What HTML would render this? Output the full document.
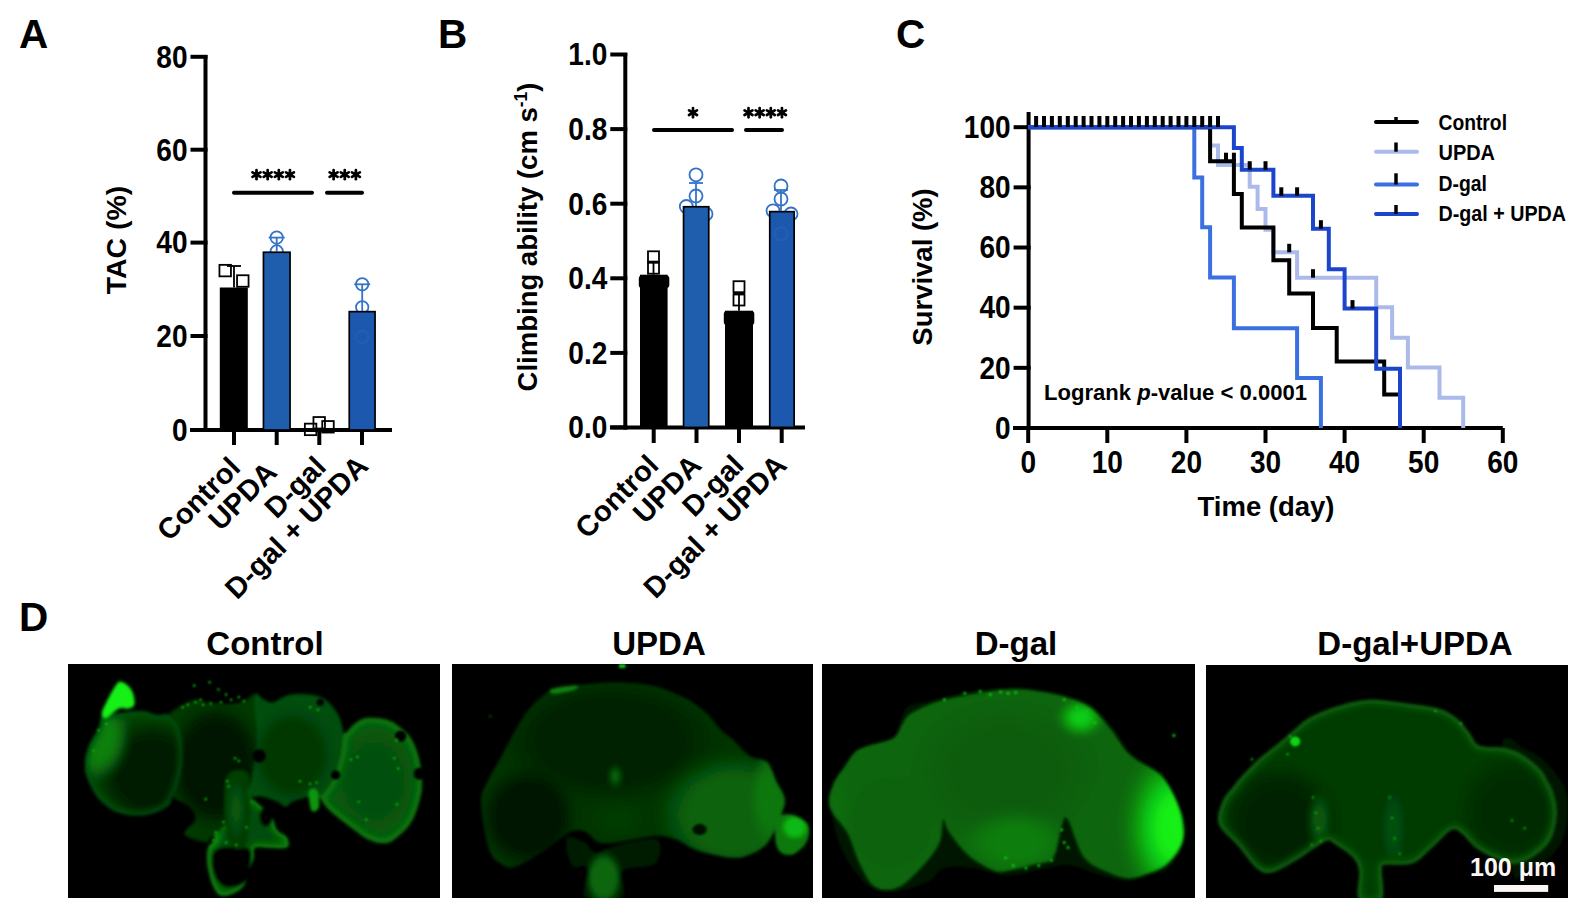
<!DOCTYPE html>
<html><head><meta charset="utf-8"><style>
html,body{margin:0;padding:0;background:#fff;width:1588px;height:918px;overflow:hidden}
svg{display:block}
</style></head><body>
<svg width="1588" height="918" viewBox="0 0 1588 918">
<defs><radialGradient id="rg0"><stop offset="0.000" stop-color="rgb(11,140,14)" stop-opacity="1.000"/><stop offset="0.125" stop-color="rgb(11,140,14)" stop-opacity="1.000"/><stop offset="0.250" stop-color="rgb(11,140,14)" stop-opacity="1.000"/><stop offset="0.375" stop-color="rgb(11,140,14)" stop-opacity="0.972"/><stop offset="0.500" stop-color="rgb(11,140,14)" stop-opacity="0.812"/><stop offset="0.625" stop-color="rgb(11,140,14)" stop-opacity="0.556"/><stop offset="0.750" stop-color="rgb(11,140,14)" stop-opacity="0.283"/><stop offset="0.875" stop-color="rgb(11,140,14)" stop-opacity="0.077"/><stop offset="1.000" stop-color="rgb(11,140,14)" stop-opacity="0.000"/></radialGradient><radialGradient id="rg1"><stop offset="0.000" stop-color="rgb(2,28,3)" stop-opacity="1.000"/><stop offset="0.125" stop-color="rgb(2,28,3)" stop-opacity="1.000"/><stop offset="0.250" stop-color="rgb(2,28,3)" stop-opacity="1.000"/><stop offset="0.375" stop-color="rgb(2,28,3)" stop-opacity="1.000"/><stop offset="0.500" stop-color="rgb(2,28,3)" stop-opacity="0.980"/><stop offset="0.625" stop-color="rgb(2,28,3)" stop-opacity="0.770"/><stop offset="0.750" stop-color="rgb(2,28,3)" stop-opacity="0.429"/><stop offset="0.875" stop-color="rgb(2,28,3)" stop-opacity="0.122"/><stop offset="1.000" stop-color="rgb(2,28,3)" stop-opacity="0.000"/></radialGradient><radialGradient id="rg2"><stop offset="0.000" stop-color="rgb(11,135,14)" stop-opacity="0.900"/><stop offset="0.125" stop-color="rgb(11,135,14)" stop-opacity="0.900"/><stop offset="0.250" stop-color="rgb(11,135,14)" stop-opacity="0.900"/><stop offset="0.375" stop-color="rgb(11,135,14)" stop-opacity="0.900"/><stop offset="0.500" stop-color="rgb(11,135,14)" stop-opacity="0.840"/><stop offset="0.625" stop-color="rgb(11,135,14)" stop-opacity="0.622"/><stop offset="0.750" stop-color="rgb(11,135,14)" stop-opacity="0.334"/><stop offset="0.875" stop-color="rgb(11,135,14)" stop-opacity="0.093"/><stop offset="1.000" stop-color="rgb(11,135,14)" stop-opacity="0.000"/></radialGradient><radialGradient id="rg3"><stop offset="0.000" stop-color="rgb(2,24,2)" stop-opacity="1.000"/><stop offset="0.125" stop-color="rgb(2,24,2)" stop-opacity="1.000"/><stop offset="0.250" stop-color="rgb(2,24,2)" stop-opacity="1.000"/><stop offset="0.375" stop-color="rgb(2,24,2)" stop-opacity="1.000"/><stop offset="0.500" stop-color="rgb(2,24,2)" stop-opacity="1.000"/><stop offset="0.625" stop-color="rgb(2,24,2)" stop-opacity="0.990"/><stop offset="0.750" stop-color="rgb(2,24,2)" stop-opacity="0.691"/><stop offset="0.875" stop-color="rgb(2,24,2)" stop-opacity="0.222"/><stop offset="1.000" stop-color="rgb(2,24,2)" stop-opacity="0.000"/></radialGradient><radialGradient id="rg4"><stop offset="0.000" stop-color="rgb(8,95,10)" stop-opacity="0.800"/><stop offset="0.125" stop-color="rgb(8,95,10)" stop-opacity="0.770"/><stop offset="0.250" stop-color="rgb(8,95,10)" stop-opacity="0.683"/><stop offset="0.375" stop-color="rgb(8,95,10)" stop-opacity="0.553"/><stop offset="0.500" stop-color="rgb(8,95,10)" stop-opacity="0.400"/><stop offset="0.625" stop-color="rgb(8,95,10)" stop-opacity="0.247"/><stop offset="0.750" stop-color="rgb(8,95,10)" stop-opacity="0.117"/><stop offset="0.875" stop-color="rgb(8,95,10)" stop-opacity="0.030"/><stop offset="1.000" stop-color="rgb(8,95,10)" stop-opacity="0.000"/></radialGradient><radialGradient id="rg5"><stop offset="0.000" stop-color="rgb(4,55,6)" stop-opacity="1.000"/><stop offset="0.125" stop-color="rgb(4,55,6)" stop-opacity="1.000"/><stop offset="0.250" stop-color="rgb(4,55,6)" stop-opacity="1.000"/><stop offset="0.375" stop-color="rgb(4,55,6)" stop-opacity="1.000"/><stop offset="0.500" stop-color="rgb(4,55,6)" stop-opacity="1.000"/><stop offset="0.625" stop-color="rgb(4,55,6)" stop-opacity="0.854"/><stop offset="0.750" stop-color="rgb(4,55,6)" stop-opacity="0.500"/><stop offset="0.875" stop-color="rgb(4,55,6)" stop-opacity="0.146"/><stop offset="1.000" stop-color="rgb(4,55,6)" stop-opacity="0.000"/></radialGradient><radialGradient id="rg6"><stop offset="0.000" stop-color="rgb(6,80,8)" stop-opacity="1.000"/><stop offset="0.125" stop-color="rgb(6,80,8)" stop-opacity="1.000"/><stop offset="0.250" stop-color="rgb(6,80,8)" stop-opacity="1.000"/><stop offset="0.375" stop-color="rgb(6,80,8)" stop-opacity="1.000"/><stop offset="0.500" stop-color="rgb(6,80,8)" stop-opacity="1.000"/><stop offset="0.625" stop-color="rgb(6,80,8)" stop-opacity="0.933"/><stop offset="0.750" stop-color="rgb(6,80,8)" stop-opacity="0.587"/><stop offset="0.875" stop-color="rgb(6,80,8)" stop-opacity="0.179"/><stop offset="1.000" stop-color="rgb(6,80,8)" stop-opacity="0.000"/></radialGradient><radialGradient id="rg7"><stop offset="0.000" stop-color="rgb(9,110,11)" stop-opacity="0.900"/><stop offset="0.125" stop-color="rgb(9,110,11)" stop-opacity="0.900"/><stop offset="0.250" stop-color="rgb(9,110,11)" stop-opacity="0.900"/><stop offset="0.375" stop-color="rgb(9,110,11)" stop-opacity="0.900"/><stop offset="0.500" stop-color="rgb(9,110,11)" stop-opacity="0.900"/><stop offset="0.625" stop-color="rgb(9,110,11)" stop-opacity="0.768"/><stop offset="0.750" stop-color="rgb(9,110,11)" stop-opacity="0.450"/><stop offset="0.875" stop-color="rgb(9,110,11)" stop-opacity="0.132"/><stop offset="1.000" stop-color="rgb(9,110,11)" stop-opacity="0.000"/></radialGradient><radialGradient id="rg8"><stop offset="0.000" stop-color="rgb(3,34,3)" stop-opacity="1.000"/><stop offset="0.125" stop-color="rgb(3,34,3)" stop-opacity="1.000"/><stop offset="0.250" stop-color="rgb(3,34,3)" stop-opacity="1.000"/><stop offset="0.375" stop-color="rgb(3,34,3)" stop-opacity="1.000"/><stop offset="0.500" stop-color="rgb(3,34,3)" stop-opacity="1.000"/><stop offset="0.625" stop-color="rgb(3,34,3)" stop-opacity="0.854"/><stop offset="0.750" stop-color="rgb(3,34,3)" stop-opacity="0.500"/><stop offset="0.875" stop-color="rgb(3,34,3)" stop-opacity="0.146"/><stop offset="1.000" stop-color="rgb(3,34,3)" stop-opacity="0.000"/></radialGradient><radialGradient id="rg9"><stop offset="0.000" stop-color="rgb(2,22,2)" stop-opacity="1.000"/><stop offset="0.125" stop-color="rgb(2,22,2)" stop-opacity="1.000"/><stop offset="0.250" stop-color="rgb(2,22,2)" stop-opacity="1.000"/><stop offset="0.375" stop-color="rgb(2,22,2)" stop-opacity="1.000"/><stop offset="0.500" stop-color="rgb(2,22,2)" stop-opacity="1.000"/><stop offset="0.625" stop-color="rgb(2,22,2)" stop-opacity="0.854"/><stop offset="0.750" stop-color="rgb(2,22,2)" stop-opacity="0.500"/><stop offset="0.875" stop-color="rgb(2,22,2)" stop-opacity="0.146"/><stop offset="1.000" stop-color="rgb(2,22,2)" stop-opacity="0.000"/></radialGradient><radialGradient id="rg10"><stop offset="0.000" stop-color="rgb(8,100,10)" stop-opacity="1.000"/><stop offset="0.125" stop-color="rgb(8,100,10)" stop-opacity="1.000"/><stop offset="0.250" stop-color="rgb(8,100,10)" stop-opacity="1.000"/><stop offset="0.375" stop-color="rgb(8,100,10)" stop-opacity="1.000"/><stop offset="0.500" stop-color="rgb(8,100,10)" stop-opacity="0.980"/><stop offset="0.625" stop-color="rgb(8,100,10)" stop-opacity="0.770"/><stop offset="0.750" stop-color="rgb(8,100,10)" stop-opacity="0.429"/><stop offset="0.875" stop-color="rgb(8,100,10)" stop-opacity="0.122"/><stop offset="1.000" stop-color="rgb(8,100,10)" stop-opacity="0.000"/></radialGradient><radialGradient id="rg11"><stop offset="0.000" stop-color="rgb(10,125,12)" stop-opacity="0.800"/><stop offset="0.125" stop-color="rgb(10,125,12)" stop-opacity="0.800"/><stop offset="0.250" stop-color="rgb(10,125,12)" stop-opacity="0.800"/><stop offset="0.375" stop-color="rgb(10,125,12)" stop-opacity="0.800"/><stop offset="0.500" stop-color="rgb(10,125,12)" stop-opacity="0.746"/><stop offset="0.625" stop-color="rgb(10,125,12)" stop-opacity="0.553"/><stop offset="0.750" stop-color="rgb(10,125,12)" stop-opacity="0.296"/><stop offset="0.875" stop-color="rgb(10,125,12)" stop-opacity="0.083"/><stop offset="1.000" stop-color="rgb(10,125,12)" stop-opacity="0.000"/></radialGradient><radialGradient id="rg12"><stop offset="0.000" stop-color="rgb(8,105,10)" stop-opacity="0.900"/><stop offset="0.125" stop-color="rgb(8,105,10)" stop-opacity="0.866"/><stop offset="0.250" stop-color="rgb(8,105,10)" stop-opacity="0.768"/><stop offset="0.375" stop-color="rgb(8,105,10)" stop-opacity="0.622"/><stop offset="0.500" stop-color="rgb(8,105,10)" stop-opacity="0.450"/><stop offset="0.625" stop-color="rgb(8,105,10)" stop-opacity="0.278"/><stop offset="0.750" stop-color="rgb(8,105,10)" stop-opacity="0.132"/><stop offset="0.875" stop-color="rgb(8,105,10)" stop-opacity="0.034"/><stop offset="1.000" stop-color="rgb(8,105,10)" stop-opacity="0.000"/></radialGradient><radialGradient id="rg13"><stop offset="0.000" stop-color="rgb(5,62,6)" stop-opacity="0.800"/><stop offset="0.125" stop-color="rgb(5,62,6)" stop-opacity="0.770"/><stop offset="0.250" stop-color="rgb(5,62,6)" stop-opacity="0.683"/><stop offset="0.375" stop-color="rgb(5,62,6)" stop-opacity="0.553"/><stop offset="0.500" stop-color="rgb(5,62,6)" stop-opacity="0.400"/><stop offset="0.625" stop-color="rgb(5,62,6)" stop-opacity="0.247"/><stop offset="0.750" stop-color="rgb(5,62,6)" stop-opacity="0.117"/><stop offset="0.875" stop-color="rgb(5,62,6)" stop-opacity="0.030"/><stop offset="1.000" stop-color="rgb(5,62,6)" stop-opacity="0.000"/></radialGradient><radialGradient id="rg14"><stop offset="0.000" stop-color="rgb(15,185,18)" stop-opacity="1.000"/><stop offset="0.125" stop-color="rgb(15,185,18)" stop-opacity="1.000"/><stop offset="0.250" stop-color="rgb(15,185,18)" stop-opacity="1.000"/><stop offset="0.375" stop-color="rgb(15,185,18)" stop-opacity="1.000"/><stop offset="0.500" stop-color="rgb(15,185,18)" stop-opacity="1.000"/><stop offset="0.625" stop-color="rgb(15,185,18)" stop-opacity="0.854"/><stop offset="0.750" stop-color="rgb(15,185,18)" stop-opacity="0.500"/><stop offset="0.875" stop-color="rgb(15,185,18)" stop-opacity="0.146"/><stop offset="1.000" stop-color="rgb(15,185,18)" stop-opacity="0.000"/></radialGradient><radialGradient id="rg15"><stop offset="0.000" stop-color="rgb(7,92,9)" stop-opacity="1.000"/><stop offset="0.125" stop-color="rgb(7,92,9)" stop-opacity="1.000"/><stop offset="0.250" stop-color="rgb(7,92,9)" stop-opacity="1.000"/><stop offset="0.375" stop-color="rgb(7,92,9)" stop-opacity="1.000"/><stop offset="0.500" stop-color="rgb(7,92,9)" stop-opacity="0.980"/><stop offset="0.625" stop-color="rgb(7,92,9)" stop-opacity="0.770"/><stop offset="0.750" stop-color="rgb(7,92,9)" stop-opacity="0.429"/><stop offset="0.875" stop-color="rgb(7,92,9)" stop-opacity="0.122"/><stop offset="1.000" stop-color="rgb(7,92,9)" stop-opacity="0.000"/></radialGradient><radialGradient id="rg16"><stop offset="0.000" stop-color="rgb(8,98,10)" stop-opacity="1.000"/><stop offset="0.125" stop-color="rgb(8,98,10)" stop-opacity="1.000"/><stop offset="0.250" stop-color="rgb(8,98,10)" stop-opacity="1.000"/><stop offset="0.375" stop-color="rgb(8,98,10)" stop-opacity="1.000"/><stop offset="0.500" stop-color="rgb(8,98,10)" stop-opacity="0.933"/><stop offset="0.625" stop-color="rgb(8,98,10)" stop-opacity="0.691"/><stop offset="0.750" stop-color="rgb(8,98,10)" stop-opacity="0.371"/><stop offset="0.875" stop-color="rgb(8,98,10)" stop-opacity="0.103"/><stop offset="1.000" stop-color="rgb(8,98,10)" stop-opacity="0.000"/></radialGradient><radialGradient id="rg17"><stop offset="0.000" stop-color="rgb(8,102,10)" stop-opacity="1.000"/><stop offset="0.125" stop-color="rgb(8,102,10)" stop-opacity="1.000"/><stop offset="0.250" stop-color="rgb(8,102,10)" stop-opacity="1.000"/><stop offset="0.375" stop-color="rgb(8,102,10)" stop-opacity="1.000"/><stop offset="0.500" stop-color="rgb(8,102,10)" stop-opacity="0.933"/><stop offset="0.625" stop-color="rgb(8,102,10)" stop-opacity="0.691"/><stop offset="0.750" stop-color="rgb(8,102,10)" stop-opacity="0.371"/><stop offset="0.875" stop-color="rgb(8,102,10)" stop-opacity="0.103"/><stop offset="1.000" stop-color="rgb(8,102,10)" stop-opacity="0.000"/></radialGradient><radialGradient id="rg18"><stop offset="0.000" stop-color="rgb(19,240,24)" stop-opacity="1.000"/><stop offset="0.125" stop-color="rgb(19,240,24)" stop-opacity="1.000"/><stop offset="0.250" stop-color="rgb(19,240,24)" stop-opacity="0.990"/><stop offset="0.375" stop-color="rgb(19,240,24)" stop-opacity="0.887"/><stop offset="0.500" stop-color="rgb(19,240,24)" stop-opacity="0.691"/><stop offset="0.625" stop-color="rgb(19,240,24)" stop-opacity="0.451"/><stop offset="0.750" stop-color="rgb(19,240,24)" stop-opacity="0.222"/><stop offset="0.875" stop-color="rgb(19,240,24)" stop-opacity="0.059"/><stop offset="1.000" stop-color="rgb(19,240,24)" stop-opacity="0.000"/></radialGradient><radialGradient id="rg19"><stop offset="0.000" stop-color="rgb(16,205,20)" stop-opacity="1.000"/><stop offset="0.125" stop-color="rgb(16,205,20)" stop-opacity="0.998"/><stop offset="0.250" stop-color="rgb(16,205,20)" stop-opacity="0.933"/><stop offset="0.375" stop-color="rgb(16,205,20)" stop-opacity="0.787"/><stop offset="0.500" stop-color="rgb(16,205,20)" stop-opacity="0.587"/><stop offset="0.625" stop-color="rgb(16,205,20)" stop-opacity="0.371"/><stop offset="0.750" stop-color="rgb(16,205,20)" stop-opacity="0.179"/><stop offset="0.875" stop-color="rgb(16,205,20)" stop-opacity="0.047"/><stop offset="1.000" stop-color="rgb(16,205,20)" stop-opacity="0.000"/></radialGradient><radialGradient id="rg20"><stop offset="0.000" stop-color="rgb(10,125,12)" stop-opacity="1.000"/><stop offset="0.125" stop-color="rgb(10,125,12)" stop-opacity="1.000"/><stop offset="0.250" stop-color="rgb(10,125,12)" stop-opacity="1.000"/><stop offset="0.375" stop-color="rgb(10,125,12)" stop-opacity="0.972"/><stop offset="0.500" stop-color="rgb(10,125,12)" stop-opacity="0.812"/><stop offset="0.625" stop-color="rgb(10,125,12)" stop-opacity="0.556"/><stop offset="0.750" stop-color="rgb(10,125,12)" stop-opacity="0.283"/><stop offset="0.875" stop-color="rgb(10,125,12)" stop-opacity="0.077"/><stop offset="1.000" stop-color="rgb(10,125,12)" stop-opacity="0.000"/></radialGradient><radialGradient id="rg21"><stop offset="0.000" stop-color="rgb(9,108,11)" stop-opacity="1.000"/><stop offset="0.125" stop-color="rgb(9,108,11)" stop-opacity="1.000"/><stop offset="0.250" stop-color="rgb(9,108,11)" stop-opacity="0.990"/><stop offset="0.375" stop-color="rgb(9,108,11)" stop-opacity="0.887"/><stop offset="0.500" stop-color="rgb(9,108,11)" stop-opacity="0.691"/><stop offset="0.625" stop-color="rgb(9,108,11)" stop-opacity="0.451"/><stop offset="0.750" stop-color="rgb(9,108,11)" stop-opacity="0.222"/><stop offset="0.875" stop-color="rgb(9,108,11)" stop-opacity="0.059"/><stop offset="1.000" stop-color="rgb(9,108,11)" stop-opacity="0.000"/></radialGradient><radialGradient id="rg22"><stop offset="0.000" stop-color="rgb(3,36,4)" stop-opacity="1.000"/><stop offset="0.125" stop-color="rgb(3,36,4)" stop-opacity="1.000"/><stop offset="0.250" stop-color="rgb(3,36,4)" stop-opacity="1.000"/><stop offset="0.375" stop-color="rgb(3,36,4)" stop-opacity="1.000"/><stop offset="0.500" stop-color="rgb(3,36,4)" stop-opacity="1.000"/><stop offset="0.625" stop-color="rgb(3,36,4)" stop-opacity="0.933"/><stop offset="0.750" stop-color="rgb(3,36,4)" stop-opacity="0.587"/><stop offset="0.875" stop-color="rgb(3,36,4)" stop-opacity="0.179"/><stop offset="1.000" stop-color="rgb(3,36,4)" stop-opacity="0.000"/></radialGradient><radialGradient id="rg23"><stop offset="0.000" stop-color="rgb(4,44,4)" stop-opacity="1.000"/><stop offset="0.125" stop-color="rgb(4,44,4)" stop-opacity="1.000"/><stop offset="0.250" stop-color="rgb(4,44,4)" stop-opacity="1.000"/><stop offset="0.375" stop-color="rgb(4,44,4)" stop-opacity="1.000"/><stop offset="0.500" stop-color="rgb(4,44,4)" stop-opacity="1.000"/><stop offset="0.625" stop-color="rgb(4,44,4)" stop-opacity="0.933"/><stop offset="0.750" stop-color="rgb(4,44,4)" stop-opacity="0.587"/><stop offset="0.875" stop-color="rgb(4,44,4)" stop-opacity="0.179"/><stop offset="1.000" stop-color="rgb(4,44,4)" stop-opacity="0.000"/></radialGradient><radialGradient id="rg24"><stop offset="0.000" stop-color="rgb(7,85,8)" stop-opacity="1.000"/><stop offset="0.125" stop-color="rgb(7,85,8)" stop-opacity="1.000"/><stop offset="0.250" stop-color="rgb(7,85,8)" stop-opacity="0.990"/><stop offset="0.375" stop-color="rgb(7,85,8)" stop-opacity="0.887"/><stop offset="0.500" stop-color="rgb(7,85,8)" stop-opacity="0.691"/><stop offset="0.625" stop-color="rgb(7,85,8)" stop-opacity="0.451"/><stop offset="0.750" stop-color="rgb(7,85,8)" stop-opacity="0.222"/><stop offset="0.875" stop-color="rgb(7,85,8)" stop-opacity="0.059"/><stop offset="1.000" stop-color="rgb(7,85,8)" stop-opacity="0.000"/></radialGradient><radialGradient id="rg25"><stop offset="0.000" stop-color="rgb(6,80,8)" stop-opacity="1.000"/><stop offset="0.125" stop-color="rgb(6,80,8)" stop-opacity="1.000"/><stop offset="0.250" stop-color="rgb(6,80,8)" stop-opacity="0.990"/><stop offset="0.375" stop-color="rgb(6,80,8)" stop-opacity="0.887"/><stop offset="0.500" stop-color="rgb(6,80,8)" stop-opacity="0.691"/><stop offset="0.625" stop-color="rgb(6,80,8)" stop-opacity="0.451"/><stop offset="0.750" stop-color="rgb(6,80,8)" stop-opacity="0.222"/><stop offset="0.875" stop-color="rgb(6,80,8)" stop-opacity="0.059"/><stop offset="1.000" stop-color="rgb(6,80,8)" stop-opacity="0.000"/></radialGradient><radialGradient id="rg26"><stop offset="0.000" stop-color="rgb(5,62,6)" stop-opacity="1.000"/><stop offset="0.125" stop-color="rgb(5,62,6)" stop-opacity="1.000"/><stop offset="0.250" stop-color="rgb(5,62,6)" stop-opacity="0.990"/><stop offset="0.375" stop-color="rgb(5,62,6)" stop-opacity="0.887"/><stop offset="0.500" stop-color="rgb(5,62,6)" stop-opacity="0.691"/><stop offset="0.625" stop-color="rgb(5,62,6)" stop-opacity="0.451"/><stop offset="0.750" stop-color="rgb(5,62,6)" stop-opacity="0.222"/><stop offset="0.875" stop-color="rgb(5,62,6)" stop-opacity="0.059"/><stop offset="1.000" stop-color="rgb(5,62,6)" stop-opacity="0.000"/></radialGradient><clipPath id="clip0"><path d="M460,669 C450.0,663.0 485.0,629.8 500,624 C515.0,618.2 537.5,624.0 550,634 C562.5,644.0 575.0,669.8 575,684 C575.0,698.2 555.0,706.5 550,719 C545.0,731.5 545.0,744.0 545,759 C545.0,774.0 545.8,789.8 550,809 C554.2,828.2 561.7,857.3 570,874 C578.3,890.7 586.7,904.8 600,909 C613.3,913.2 635.0,905.7 650,899 C665.0,892.3 680.0,884.0 690,869 C700.0,854.0 705.0,823.2 710,809 C715.0,794.8 716.8,792.3 720,784 C723.2,775.7 726.5,769.7 729,759 C731.5,748.3 723.2,726.2 735,720 C746.8,713.8 779.2,722.2 800,722 C820.8,721.8 850.2,726.0 860,719 C869.8,712.0 865.7,691.5 859,680 C852.3,668.5 829.8,663.3 820,650 C810.2,636.7 810.0,615.0 800,600 C790.0,585.0 771.8,571.0 760,560 C748.2,549.0 739.0,540.7 729,534 C719.0,527.3 706.5,522.3 700,520 C693.5,517.7 700.0,506.7 690,520 C680.0,533.3 661.7,576.7 640,600 C618.3,623.3 590.0,648.5 560,660 C530.0,671.5 470.0,675.0 460,669 Z"/></clipPath><clipPath id="clip1"><path d="M130,210 C136.7,201.7 140.0,204.2 160,200 C180.0,195.8 226.7,187.5 250,185 C273.3,182.5 283.3,182.5 300,185 C316.7,187.5 333.3,197.5 350,200 C366.7,202.5 385.0,190.0 400,200 C415.0,210.0 431.7,230.0 440,260 C448.3,290.0 451.7,343.3 450,380 C448.3,416.7 436.7,456.8 430,480 C423.3,503.2 416.7,505.8 410,519 C403.3,532.2 408.3,546.5 390,559 C371.7,571.5 331.7,589.8 300,594 C268.3,598.2 229.2,594.0 200,584 C170.8,574.0 145.0,554.8 125,534 C105.0,513.2 90.0,481.3 80,459 C70.0,436.7 65.0,422.3 65,400 C65.0,377.7 70.8,350.0 80,325 C89.2,300.0 111.7,269.2 120,250 C128.3,230.8 123.3,218.3 130,210 Z"/></clipPath><clipPath id="clip2"><path d="M400,200 C400.0,184.2 423.3,175.0 440,165 C456.7,155.0 481.7,142.5 500,140 C518.3,137.5 525.0,147.5 550,150 C575.0,152.5 625.0,156.7 650,155 C675.0,153.3 686.8,144.2 700,140 C713.2,135.8 722.3,103.3 729,130 C735.7,156.7 741.5,246.7 740,300 C738.5,353.3 728.3,413.3 720,450 C711.7,486.7 703.3,495.0 690,520 C676.7,545.0 655.0,578.3 640,600 C625.0,621.7 613.3,636.7 600,650 C586.7,663.3 570.0,671.8 560,680 C550.0,688.2 556.7,700.8 540,699 C523.3,697.2 466.7,684.0 460,669 C453.3,654.0 497.5,627.3 500,609 C502.5,590.7 490.0,574.0 475,559 C460.0,544.0 417.5,532.2 410,519 C402.5,505.8 423.3,503.2 430,480 C436.7,456.8 448.3,416.7 450,380 C451.7,343.3 448.3,290.0 440,260 C431.7,230.0 400.0,215.8 400,200 Z"/></clipPath><clipPath id="clip3"><path d="M625,440 C639.2,410.8 685.0,411.7 700,425 C715.0,438.3 715.0,474.2 715,520 C715.0,565.8 711.7,667.5 700,700 C688.3,732.5 659.2,731.7 645,715 C630.8,698.3 618.3,645.8 615,600 C611.7,554.2 610.8,469.2 625,440 Z"/></clipPath><clipPath id="clip4"><path d="M729.5,125 C734.4,98.3 757.0,135.8 769.5,140 C782.0,144.2 787.8,153.3 804.5,150 C821.2,146.7 844.5,125.0 869.5,120 C894.5,115.0 931.2,116.7 954.5,120 C977.8,123.3 992.8,128.3 1009.5,140 C1026.2,151.7 1043.7,173.3 1054.5,190 C1065.3,206.7 1070.3,225.8 1074.5,240 C1078.7,254.2 1080.2,256.7 1079.5,275 C1078.8,293.3 1076.6,320.8 1070,350 C1063.4,379.2 1051.7,423.3 1040,450 C1028.3,476.7 1008.4,497.7 1000,510 C991.6,522.3 997.8,522.3 989.5,524 C981.2,525.7 968.2,517.3 950,520 C931.8,522.7 895.9,533.3 880,540 C864.1,546.7 864.5,560.0 854.5,560 C844.5,560.0 835.8,546.7 820,540 C804.2,533.3 780.0,523.3 760,520 C740.0,516.7 706.7,531.7 700,520 C693.3,508.3 713.3,486.7 720,450 C726.7,413.3 738.4,354.2 740,300 C741.6,245.8 724.6,151.7 729.5,125 Z"/></clipPath><clipPath id="clip5"><path d="M1079.5,275 C1082.8,261.7 1081.2,277.5 1089.5,270 C1097.8,262.5 1114.5,240.0 1129.5,230 C1144.5,220.0 1158.7,211.7 1179.5,210 C1200.3,208.3 1233.7,213.3 1254.5,220 C1275.3,226.7 1289.5,238.3 1304.5,250 C1319.5,261.7 1332.8,271.7 1344.5,290 C1356.2,308.3 1367.0,331.8 1374.5,360 C1382.0,388.2 1388.7,430.0 1389.5,459 C1390.3,488.0 1387.0,506.5 1379.5,534 C1372.0,561.5 1361.2,598.2 1344.5,624 C1327.8,649.8 1298.7,675.7 1279.5,689 C1260.3,702.3 1247.8,704.8 1229.5,704 C1211.2,703.2 1187.8,693.2 1169.5,684 C1151.2,674.8 1134.5,659.8 1119.5,649 C1104.5,638.2 1096.2,632.3 1079.5,619 C1062.8,605.7 1034.5,584.8 1019.5,569 C1004.5,553.2 992.8,533.8 989.5,524 C986.2,514.2 991.6,522.3 1000,510 C1008.4,497.7 1028.3,476.7 1040,450 C1051.7,423.3 1063.4,379.2 1070,350 C1076.6,320.8 1076.2,288.3 1079.5,275 Z"/></clipPath><clipPath id="clip6"><path d="M450,684 C458.3,669.0 501.7,690.7 520,700 C538.3,709.3 543.3,736.7 560,740 C576.7,743.3 596.7,726.7 620,720 C643.3,713.3 669.0,705.0 700,700 C731.0,695.0 789.3,676.7 806,690 C822.7,703.3 817.7,761.7 800,780 C782.3,798.3 722.5,793.3 700,800 C677.5,806.7 670.8,800.3 665,820 C659.2,839.7 688.3,901.7 665,918 C641.7,934.3 547.5,937.7 525,918 C502.5,898.3 539.2,821.3 530,800 C520.8,778.7 483.3,809.3 470,790 C456.7,770.7 441.7,699.0 450,684 Z"/></clipPath><clipPath id="clip7"><path d="M140,459 C154.2,430.7 180.0,386.5 200,350 C220.0,313.5 243.3,268.3 260,240 C276.7,211.7 285.0,198.3 300,180 C315.0,161.7 333.3,143.3 350,130 C366.7,116.7 375.0,108.0 400,100 C425.0,92.0 462.5,86.7 500,82 C537.5,77.3 590.7,73.2 625,72 C659.3,70.8 675.8,72.0 706,75 C736.2,78.0 771.0,80.0 806,90 C841.0,100.0 891.0,123.3 916,135 C941.0,146.7 941.0,149.2 956,160 C971.0,170.8 989.3,183.3 1006,200 C1022.7,216.7 1039.3,243.3 1056,260 C1072.7,276.7 1087.7,283.3 1106,300 C1124.3,316.7 1145.2,346.7 1166,360 C1186.8,373.3 1216.0,370.0 1231,380 C1246.0,390.0 1249.3,406.8 1256,420 C1262.7,433.2 1262.7,440.0 1271,459 C1279.3,478.0 1304.3,509.0 1306,534 C1307.7,559.0 1291.0,583.2 1281,609 C1271.0,634.8 1258.5,669.0 1246,689 C1233.5,709.0 1225.2,717.3 1206,729 C1186.8,740.7 1156.0,754.8 1131,759 C1106.0,763.2 1085.2,759.0 1056,754 C1026.8,749.0 985.2,739.8 956,729 C926.8,718.2 906.0,698.2 881,689 C856.0,679.8 835.2,674.0 806,674 C776.8,674.0 732.0,684.8 706,689 C680.0,693.2 671.8,697.3 650,699 C628.2,700.7 595.8,705.7 575,699 C554.2,692.3 541.7,666.5 525,659 C508.3,651.5 491.7,649.8 475,654 C458.3,658.2 445.8,669.8 425,684 C404.2,698.2 379.2,720.7 350,739 C320.8,757.3 275.0,785.7 250,794 C225.0,802.3 216.7,798.2 200,789 C183.3,779.8 163.3,769.0 150,739 C136.7,709.0 125.8,645.5 120,609 C114.2,572.5 111.7,545.0 115,520 C118.3,495.0 125.8,487.3 140,459 Z"/></clipPath><clipPath id="clip8"><path d="M1271,609 C1280.2,587.3 1309.2,586.5 1330,590 C1350.8,593.5 1386.0,611.7 1396,630 C1406.0,648.3 1401.0,680.2 1390,700 C1379.0,719.8 1349.2,745.7 1330,749 C1310.8,752.3 1284.8,743.3 1275,720 C1265.2,696.7 1261.8,630.7 1271,609 Z"/></clipPath><clipPath id="clip9"><path d="M65,459 C79.2,424.0 106.7,372.3 125,350 C143.3,327.7 149.2,335.0 175,325 C200.8,315.0 254.2,315.0 280,290 C305.8,265.0 305.8,199.2 330,175 C354.2,150.8 384.2,155.8 425,145 C465.8,134.2 524.3,118.3 575,110 C625.7,101.7 686.5,96.7 729,95 C771.5,93.3 791.5,95.0 830,100 C868.5,105.0 921.7,114.2 960,125 C998.3,135.8 1030.0,144.2 1060,165 C1090.0,185.8 1115.0,219.2 1140,250 C1165.0,280.8 1181.7,322.5 1210,350 C1238.3,377.5 1286.7,397.5 1310,415 C1333.3,432.5 1331.7,424.2 1350,455 C1368.3,485.8 1408.3,559.2 1420,600 C1431.7,640.8 1430.0,666.7 1420,700 C1410.0,733.3 1383.3,778.3 1360,800 C1336.7,821.7 1306.7,821.7 1280,830 C1253.3,838.3 1230.0,850.0 1200,850 C1170.0,850.0 1136.7,840.0 1100,830 C1063.3,820.0 1016.7,795.0 980,790 C943.3,785.0 921.7,793.3 880,800 C838.3,806.7 776.7,830.0 730,830 C683.3,830.0 641.7,805.0 600,800 C558.3,795.0 510.0,791.7 480,800 C450.0,808.3 450.0,835.0 420,850 C390.0,865.0 336.7,885.0 300,890 C263.3,895.0 230.0,895.0 200,880 C170.0,865.0 143.3,833.3 120,800 C96.7,766.7 73.3,720.0 60,680 C46.7,640.0 39.2,596.8 40,560 C40.8,523.2 50.8,494.0 65,459 Z"/></clipPath><clipPath id="clip10"><path d="M30,560 C20.8,528.5 35.0,496.7 45,470 C55.0,443.3 76.7,420.0 90,400 C103.3,380.0 110.8,363.0 125,350 C139.2,337.0 149.2,332.0 175,322 C200.8,312.0 255.8,305.3 280,290 C304.2,274.7 308.3,245.8 320,230 C331.7,214.2 328.3,208.3 350,195 C371.7,181.7 408.3,162.8 450,150 C491.7,137.2 553.5,126.3 600,118 C646.5,109.7 690.7,102.2 729,100 C767.3,97.8 792.3,100.0 830,105 C867.7,110.0 918.3,118.8 955,130 C991.7,141.2 1020.8,151.2 1050,172 C1079.2,192.8 1104.2,224.5 1130,255 C1155.8,285.5 1175.8,327.5 1205,355 C1234.2,382.5 1281.7,402.7 1305,420 C1328.3,437.3 1332.5,442.5 1345,459 C1357.5,475.5 1369.2,494.0 1380,519 C1390.8,544.0 1405.0,579.0 1410,609 C1415.0,639.0 1419.2,670.7 1410,699 C1400.8,727.3 1376.7,759.0 1355,779 C1333.3,799.0 1305.0,809.0 1280,819 C1255.0,829.0 1230.0,839.0 1205,839 C1180.0,839.0 1159.2,832.3 1130,819 C1100.8,805.7 1057.5,794.0 1030,759 C1002.5,724.0 980.0,630.7 965,609 C950.0,587.3 950.0,604.0 940,629 C930.0,654.0 923.3,733.2 905,759 C886.7,784.8 859.2,775.7 830,784 C800.8,792.3 755.8,804.8 730,809 C704.2,813.2 700.8,819.0 675,809 C649.2,799.0 604.2,774.0 575,749 C545.8,724.0 516.7,682.3 500,659 C483.3,635.7 481.7,602.3 475,609 C468.3,615.7 472.5,669.8 460,699 C447.5,728.2 426.7,754.8 400,784 C373.3,813.2 331.7,859.0 300,874 C268.3,889.0 235.0,889.0 210,874 C185.0,859.0 168.3,819.8 150,784 C131.7,748.2 120.0,696.3 100,659 C80.0,621.7 39.2,591.5 30,560 Z"/></clipPath><clipPath id="clip11"><path d="M1160,320 C1168.3,241.7 1221.7,320.0 1250,330 C1278.3,340.0 1305.0,356.7 1330,380 C1355.0,403.3 1385.0,440.0 1400,470 C1415.0,500.0 1420.0,525.0 1420,560 C1420.0,595.0 1413.3,646.7 1400,680 C1386.7,713.3 1363.3,740.0 1340,760 C1316.7,780.0 1283.3,793.3 1260,800 C1236.7,806.7 1216.7,880.0 1200,800 C1183.3,720.0 1151.7,398.3 1160,320 Z"/></clipPath><clipPath id="clip12"><path d="M50,624 C40.0,594.8 55.0,559.0 65,534 C75.0,509.0 100.8,486.5 110,474 C119.2,461.5 105.0,475.5 120,459 C135.0,442.5 173.3,399.8 200,375 C226.7,350.2 255.0,330.8 280,310 C305.0,289.2 330.0,266.7 350,250 C370.0,233.3 379.2,222.5 400,210 C420.8,197.5 445.8,185.8 475,175 C504.2,164.2 545.8,151.7 575,145 C604.2,138.3 627.5,135.8 650,135 C672.5,134.2 687.5,137.5 710,140 C732.5,142.5 751.7,145.0 785,150 C818.3,155.0 876.7,160.0 910,170 C943.3,180.0 964.2,193.7 985,210 C1005.8,226.3 1020.8,250.5 1035,268 C1049.2,285.5 1049.2,305.5 1070,315 C1090.8,324.5 1132.5,319.2 1160,325 C1187.5,330.8 1210.0,335.8 1235,350 C1260.0,364.2 1292.5,391.8 1310,410 C1327.5,428.2 1331.7,444.2 1340,459 C1348.3,473.8 1354.2,478.2 1360,499 C1365.8,519.8 1376.7,553.2 1375,584 C1373.3,614.8 1365.0,656.5 1350,684 C1335.0,711.5 1308.3,733.2 1285,749 C1261.7,764.8 1235.0,777.3 1210,779 C1185.0,780.7 1160.0,769.0 1135,759 C1110.0,749.0 1082.5,735.7 1060,719 C1037.5,702.3 1016.7,670.7 1000,659 C983.3,647.3 979.2,639.0 960,649 C940.8,659.0 910.0,697.3 885,719 C860.0,740.7 839.2,768.2 810,779 C780.8,789.8 730.0,780.5 710,784 C690.0,787.5 693.3,777.7 690,800 C686.7,822.3 705.0,898.3 690,918 C675.0,937.7 615.0,936.2 600,918 C585.0,899.8 604.2,836.3 600,809 C595.8,781.7 591.7,772.3 575,754 C558.3,735.7 516.7,709.8 500,699 C483.3,688.2 487.5,685.7 475,689 C462.5,692.3 445.8,705.7 425,719 C404.2,732.3 377.5,753.2 350,769 C322.5,784.8 285.0,809.0 260,814 C235.0,819.0 222.5,816.5 200,799 C177.5,781.5 150.0,738.2 125,709 C100.0,679.8 60.0,653.2 50,624 Z"/></clipPath>
<filter id="soft6" x="-10%" y="-10%" width="120%" height="120%"><feGaussianBlur stdDeviation="6"/></filter>
<filter id="soft10" x="-10%" y="-10%" width="120%" height="120%"><feGaussianBlur stdDeviation="10"/></filter>
<filter id="soft7" x="-10%" y="-10%" width="120%" height="120%"><feGaussianBlur stdDeviation="7"/></filter>
<filter id="soft4" x="-10%" y="-10%" width="120%" height="120%"><feGaussianBlur stdDeviation="4"/></filter>
<filter id="soft12" x="-10%" y="-10%" width="120%" height="120%"><feGaussianBlur stdDeviation="12"/></filter>
<filter id="bl3" x="-20%" y="-20%" width="140%" height="140%"><feGaussianBlur stdDeviation="8"/></filter>
<filter id="bl6" x="-20%" y="-20%" width="140%" height="140%"><feGaussianBlur stdDeviation="16"/></filter>
<filter id="bl12" x="-50%" y="-50%" width="200%" height="200%"><feGaussianBlur stdDeviation="50"/></filter>
<filter id="bl20" x="-50%" y="-50%" width="200%" height="200%"><feGaussianBlur stdDeviation="70"/></filter>
</defs>
<rect width="1588" height="918" fill="#fff"/>
<text x="19" y="48" font-size="40.5" font-family="Liberation Sans, sans-serif" font-weight="bold">A</text>
<text x="438" y="48" font-size="40.5" font-family="Liberation Sans, sans-serif" font-weight="bold">B</text>
<text x="896" y="48" font-size="40.5" font-family="Liberation Sans, sans-serif" font-weight="bold">C</text>
<text x="19" y="631" font-size="40.5" font-family="Liberation Sans, sans-serif" font-weight="bold">D</text>
<line x1="205.5" y1="55" x2="205.5" y2="432.0" stroke="#000" stroke-width="4"/>
<line x1="190.5" y1="56.8" x2="207.5" y2="56.8" stroke="#000" stroke-width="4"/>
<text transform="translate(187.5,67.6) scale(0.92,1)" font-size="30.5" text-anchor="end" font-family="Liberation Sans, sans-serif" font-weight="bold">80</text>
<line x1="190.5" y1="149.7" x2="207.5" y2="149.7" stroke="#000" stroke-width="4"/>
<text transform="translate(187.5,160.5) scale(0.92,1)" font-size="30.5" text-anchor="end" font-family="Liberation Sans, sans-serif" font-weight="bold">60</text>
<line x1="190.5" y1="242.6" x2="207.5" y2="242.6" stroke="#000" stroke-width="4"/>
<text transform="translate(187.5,253.4) scale(0.92,1)" font-size="30.5" text-anchor="end" font-family="Liberation Sans, sans-serif" font-weight="bold">40</text>
<line x1="190.5" y1="336.0" x2="207.5" y2="336.0" stroke="#000" stroke-width="4"/>
<text transform="translate(187.5,346.8) scale(0.92,1)" font-size="30.5" text-anchor="end" font-family="Liberation Sans, sans-serif" font-weight="bold">20</text>
<line x1="190.5" y1="430.0" x2="207.5" y2="430.0" stroke="#000" stroke-width="4"/>
<text transform="translate(187.5,440.8) scale(0.92,1)" font-size="30.5" text-anchor="end" font-family="Liberation Sans, sans-serif" font-weight="bold">0</text>
<line x1="190" y1="430" x2="392" y2="430" stroke="#000" stroke-width="4"/>
<line x1="234" y1="430" x2="234" y2="445" stroke="#000" stroke-width="4"/>
<line x1="276.7" y1="430" x2="276.7" y2="445" stroke="#000" stroke-width="4"/>
<line x1="319.3" y1="430" x2="319.3" y2="445" stroke="#000" stroke-width="4"/>
<line x1="362" y1="430" x2="362" y2="445" stroke="#000" stroke-width="4"/>
<line x1="234" y1="287.5" x2="234" y2="266" stroke="#000" stroke-width="1.8"/>
<line x1="227.0" y1="266" x2="241.0" y2="266" stroke="#000" stroke-width="1.8"/>
<rect x="219.45" y="264.85" width="11.5" height="11.5" fill="none" stroke="#000" stroke-width="1.8"/>
<rect x="237.05" y="275.25" width="11.5" height="11.5" fill="none" stroke="#000" stroke-width="1.8"/>
<line x1="276.7" y1="251.4" x2="276.7" y2="237.6" stroke="#3473C8" stroke-width="1.8"/>
<line x1="268.7" y1="237.6" x2="284.7" y2="237.6" stroke="#3473C8" stroke-width="1.8"/>
<circle cx="276.7" cy="237.6" r="6.2" fill="none" stroke="#3473C8" stroke-width="1.8" opacity="1"/>
<circle cx="276.7" cy="251.4" r="6.2" fill="none" stroke="#3473C8" stroke-width="1.8" opacity="1"/>
<rect x="304.85" y="423.65" width="11.5" height="11.5" fill="none" stroke="#000" stroke-width="1.8"/>
<rect x="313.45" y="417.05" width="11.5" height="11.5" fill="none" stroke="#000" stroke-width="1.8"/>
<rect x="322.25" y="421.05" width="11.5" height="11.5" fill="none" stroke="#000" stroke-width="1.8"/>
<line x1="362.2" y1="310.8" x2="362.2" y2="284.3" stroke="#3473C8" stroke-width="1.8"/>
<line x1="354.2" y1="284.3" x2="370.2" y2="284.3" stroke="#3473C8" stroke-width="1.8"/>
<circle cx="362.2" cy="284.3" r="6.2" fill="none" stroke="#3473C8" stroke-width="1.8" opacity="1"/>
<circle cx="362.2" cy="307.3" r="6.2" fill="none" stroke="#3473C8" stroke-width="1.8" opacity="1"/>
<rect x="220.65" y="288.35" width="26.3" height="141.65" fill="#000" stroke="#000" stroke-width="1.7"/>
<rect x="263.45000000000005" y="252.25" width="26.599999999999955" height="177.75" fill="#1E5EAD" stroke="#000" stroke-width="1.7"/>
<rect x="349.25" y="311.65000000000003" width="25.8" height="118.35" fill="#1C58AE" stroke="#000" stroke-width="1.7"/>
<circle cx="362.2" cy="336.7" r="6.2" fill="none" stroke="#3473C8" stroke-width="1.8" opacity="0.3"/>
<line x1="234" y1="192.8" x2="312" y2="192.8" stroke="#000" stroke-width="4" stroke-linecap="round"/>
<line x1="327" y1="192.8" x2="362" y2="192.8" stroke="#000" stroke-width="4" stroke-linecap="round"/>
<line x1="256.50" y1="170.00" x2="256.50" y2="179.20" stroke="#000" stroke-width="2.7" stroke-linecap="round"/>
<line x1="252.52" y1="172.30" x2="260.48" y2="176.90" stroke="#000" stroke-width="2.7" stroke-linecap="round"/>
<line x1="252.52" y1="176.90" x2="260.48" y2="172.30" stroke="#000" stroke-width="2.7" stroke-linecap="round"/>
<circle cx="256.5" cy="174.6" r="2.6" fill="#000"/>
<line x1="267.65" y1="170.00" x2="267.65" y2="179.20" stroke="#000" stroke-width="2.7" stroke-linecap="round"/>
<line x1="263.67" y1="172.30" x2="271.63" y2="176.90" stroke="#000" stroke-width="2.7" stroke-linecap="round"/>
<line x1="263.67" y1="176.90" x2="271.63" y2="172.30" stroke="#000" stroke-width="2.7" stroke-linecap="round"/>
<circle cx="267.65" cy="174.6" r="2.6" fill="#000"/>
<line x1="278.80" y1="170.00" x2="278.80" y2="179.20" stroke="#000" stroke-width="2.7" stroke-linecap="round"/>
<line x1="274.82" y1="172.30" x2="282.78" y2="176.90" stroke="#000" stroke-width="2.7" stroke-linecap="round"/>
<line x1="274.82" y1="176.90" x2="282.78" y2="172.30" stroke="#000" stroke-width="2.7" stroke-linecap="round"/>
<circle cx="278.8" cy="174.6" r="2.6" fill="#000"/>
<line x1="289.95" y1="170.00" x2="289.95" y2="179.20" stroke="#000" stroke-width="2.7" stroke-linecap="round"/>
<line x1="285.97" y1="172.30" x2="293.93" y2="176.90" stroke="#000" stroke-width="2.7" stroke-linecap="round"/>
<line x1="285.97" y1="176.90" x2="293.93" y2="172.30" stroke="#000" stroke-width="2.7" stroke-linecap="round"/>
<circle cx="289.95" cy="174.6" r="2.6" fill="#000"/>
<line x1="333.60" y1="170.00" x2="333.60" y2="179.20" stroke="#000" stroke-width="2.7" stroke-linecap="round"/>
<line x1="329.62" y1="172.30" x2="337.58" y2="176.90" stroke="#000" stroke-width="2.7" stroke-linecap="round"/>
<line x1="329.62" y1="176.90" x2="337.58" y2="172.30" stroke="#000" stroke-width="2.7" stroke-linecap="round"/>
<circle cx="333.6" cy="174.6" r="2.6" fill="#000"/>
<line x1="344.75" y1="170.00" x2="344.75" y2="179.20" stroke="#000" stroke-width="2.7" stroke-linecap="round"/>
<line x1="340.77" y1="172.30" x2="348.73" y2="176.90" stroke="#000" stroke-width="2.7" stroke-linecap="round"/>
<line x1="340.77" y1="176.90" x2="348.73" y2="172.30" stroke="#000" stroke-width="2.7" stroke-linecap="round"/>
<circle cx="344.75" cy="174.6" r="2.6" fill="#000"/>
<line x1="355.90" y1="170.00" x2="355.90" y2="179.20" stroke="#000" stroke-width="2.7" stroke-linecap="round"/>
<line x1="351.92" y1="172.30" x2="359.88" y2="176.90" stroke="#000" stroke-width="2.7" stroke-linecap="round"/>
<line x1="351.92" y1="176.90" x2="359.88" y2="172.30" stroke="#000" stroke-width="2.7" stroke-linecap="round"/>
<circle cx="355.90000000000003" cy="174.6" r="2.6" fill="#000"/>
<text transform="translate(126,240) rotate(-90)" font-size="28.5" text-anchor="middle" font-family="Liberation Sans, sans-serif" font-weight="bold">TAC (%)</text>
<text transform="translate(242.0,469.4) rotate(-45)" font-size="29" text-anchor="end" font-family="Liberation Sans, sans-serif" font-weight="bold">Control</text>
<text transform="translate(278.5,474.0) rotate(-45)" font-size="29" text-anchor="end" font-family="Liberation Sans, sans-serif" font-weight="bold">UPDA</text>
<text transform="translate(327.7,468.6) rotate(-45)" font-size="29" text-anchor="end" font-family="Liberation Sans, sans-serif" font-weight="bold">D-gal</text>
<text transform="translate(369.7,467.7) rotate(-45)" font-size="29" text-anchor="end" font-family="Liberation Sans, sans-serif" font-weight="bold">D-gal + UPDA</text>
<line x1="625.3" y1="53" x2="625.3" y2="429.4" stroke="#000" stroke-width="4"/>
<line x1="610.3" y1="54.5" x2="627.3" y2="54.5" stroke="#000" stroke-width="4"/>
<text transform="translate(607.3,65.3) scale(0.92,1)" font-size="30.5" text-anchor="end" font-family="Liberation Sans, sans-serif" font-weight="bold">1.0</text>
<line x1="610.3" y1="129.1" x2="627.3" y2="129.1" stroke="#000" stroke-width="4"/>
<text transform="translate(607.3,139.9) scale(0.92,1)" font-size="30.5" text-anchor="end" font-family="Liberation Sans, sans-serif" font-weight="bold">0.8</text>
<line x1="610.3" y1="203.7" x2="627.3" y2="203.7" stroke="#000" stroke-width="4"/>
<text transform="translate(607.3,214.5) scale(0.92,1)" font-size="30.5" text-anchor="end" font-family="Liberation Sans, sans-serif" font-weight="bold">0.6</text>
<line x1="610.3" y1="278.3" x2="627.3" y2="278.3" stroke="#000" stroke-width="4"/>
<text transform="translate(607.3,289.1) scale(0.92,1)" font-size="30.5" text-anchor="end" font-family="Liberation Sans, sans-serif" font-weight="bold">0.4</text>
<line x1="610.3" y1="352.9" x2="627.3" y2="352.9" stroke="#000" stroke-width="4"/>
<text transform="translate(607.3,363.7) scale(0.92,1)" font-size="30.5" text-anchor="end" font-family="Liberation Sans, sans-serif" font-weight="bold">0.2</text>
<line x1="610.3" y1="427.4" x2="627.3" y2="427.4" stroke="#000" stroke-width="4"/>
<text transform="translate(607.3,438.2) scale(0.92,1)" font-size="30.5" text-anchor="end" font-family="Liberation Sans, sans-serif" font-weight="bold">0.0</text>
<line x1="610" y1="427.4" x2="805" y2="427.4" stroke="#000" stroke-width="4"/>
<line x1="653.7" y1="427.4" x2="653.7" y2="443" stroke="#000" stroke-width="4"/>
<line x1="696.5" y1="427.4" x2="696.5" y2="443" stroke="#000" stroke-width="4"/>
<line x1="739" y1="427.4" x2="739" y2="443" stroke="#000" stroke-width="4"/>
<line x1="781.7" y1="427.4" x2="781.7" y2="443" stroke="#000" stroke-width="4"/>
<line x1="653.5" y1="274.7" x2="653.5" y2="261.6" stroke="#000" stroke-width="1.8"/>
<line x1="647.5" y1="261.6" x2="659.5" y2="261.6" stroke="#000" stroke-width="1.8"/>
<rect x="648.0" y="251.3" width="11" height="11" fill="none" stroke="#000" stroke-width="1.8"/>
<rect x="648.0" y="262.7" width="11" height="11" fill="none" stroke="#000" stroke-width="1.8"/>
<line x1="739" y1="310.7" x2="739" y2="293.2" stroke="#000" stroke-width="1.8"/>
<line x1="733.0" y1="293.2" x2="745.0" y2="293.2" stroke="#000" stroke-width="1.8"/>
<rect x="733.5" y="281.2" width="11" height="11" fill="none" stroke="#000" stroke-width="1.8"/>
<rect x="733.5" y="294.5" width="11" height="11" fill="none" stroke="#000" stroke-width="1.8"/>
<line x1="696" y1="205.9" x2="696" y2="183" stroke="#3473C8" stroke-width="1.8"/>
<line x1="689.0" y1="183" x2="703.0" y2="183" stroke="#3473C8" stroke-width="1.8"/>
<circle cx="696" cy="174.8" r="6.5" fill="none" stroke="#3473C8" stroke-width="1.8" opacity="1"/>
<circle cx="696" cy="196" r="6.5" fill="none" stroke="#3473C8" stroke-width="1.8" opacity="1"/>
<circle cx="686.3" cy="206.5" r="6.5" fill="none" stroke="#3473C8" stroke-width="1.8" opacity="1"/>
<circle cx="706" cy="214" r="6.5" fill="none" stroke="#3473C8" stroke-width="1.8" opacity="1"/>
<line x1="781" y1="210.8" x2="781" y2="190" stroke="#3473C8" stroke-width="1.8"/>
<line x1="774.0" y1="190" x2="788.0" y2="190" stroke="#3473C8" stroke-width="1.8"/>
<circle cx="781" cy="186" r="6.5" fill="none" stroke="#3473C8" stroke-width="1.8" opacity="1"/>
<circle cx="781" cy="199" r="6.5" fill="none" stroke="#3473C8" stroke-width="1.8" opacity="1"/>
<circle cx="773" cy="210.8" r="6.5" fill="none" stroke="#3473C8" stroke-width="1.8" opacity="1"/>
<circle cx="791" cy="214" r="6.5" fill="none" stroke="#3473C8" stroke-width="1.8" opacity="1"/>
<rect x="640.85" y="275.55" width="25.900000000000023" height="151.85" fill="#000" stroke="#000" stroke-width="1.7"/>
<rect x="683.5500000000001" y="206.75" width="25.199999999999978" height="220.64999999999998" fill="#1E5EAD" stroke="#000" stroke-width="1.7"/>
<rect x="725.85" y="311.55" width="26.3" height="115.85" fill="#000" stroke="#000" stroke-width="1.7"/>
<rect x="769.75" y="211.65" width="24.400000000000023" height="215.74999999999997" fill="#1C58AE" stroke="#000" stroke-width="1.7"/>
<rect x="638.8" y="275.5" width="30.5" height="12.5" rx="3" fill="#000"/>
<rect x="723.8" y="311" width="30.5" height="14" rx="3" fill="#000"/>
<circle cx="781" cy="233.7" r="6.5" fill="none" stroke="#3473C8" stroke-width="1.8" opacity="0.3"/>
<line x1="654" y1="130" x2="732" y2="130" stroke="#000" stroke-width="4" stroke-linecap="round"/>
<line x1="746" y1="130" x2="782" y2="130" stroke="#000" stroke-width="4" stroke-linecap="round"/>
<line x1="693.00" y1="108.10" x2="693.00" y2="117.30" stroke="#000" stroke-width="2.7" stroke-linecap="round"/>
<line x1="689.02" y1="110.40" x2="696.98" y2="115.00" stroke="#000" stroke-width="2.7" stroke-linecap="round"/>
<line x1="689.02" y1="115.00" x2="696.98" y2="110.40" stroke="#000" stroke-width="2.7" stroke-linecap="round"/>
<circle cx="693" cy="112.7" r="2.6" fill="#000"/>
<line x1="748.50" y1="108.10" x2="748.50" y2="117.30" stroke="#000" stroke-width="2.7" stroke-linecap="round"/>
<line x1="744.52" y1="110.40" x2="752.48" y2="115.00" stroke="#000" stroke-width="2.7" stroke-linecap="round"/>
<line x1="744.52" y1="115.00" x2="752.48" y2="110.40" stroke="#000" stroke-width="2.7" stroke-linecap="round"/>
<circle cx="748.5" cy="112.7" r="2.6" fill="#000"/>
<line x1="759.65" y1="108.10" x2="759.65" y2="117.30" stroke="#000" stroke-width="2.7" stroke-linecap="round"/>
<line x1="755.67" y1="110.40" x2="763.63" y2="115.00" stroke="#000" stroke-width="2.7" stroke-linecap="round"/>
<line x1="755.67" y1="115.00" x2="763.63" y2="110.40" stroke="#000" stroke-width="2.7" stroke-linecap="round"/>
<circle cx="759.65" cy="112.7" r="2.6" fill="#000"/>
<line x1="770.80" y1="108.10" x2="770.80" y2="117.30" stroke="#000" stroke-width="2.7" stroke-linecap="round"/>
<line x1="766.82" y1="110.40" x2="774.78" y2="115.00" stroke="#000" stroke-width="2.7" stroke-linecap="round"/>
<line x1="766.82" y1="115.00" x2="774.78" y2="110.40" stroke="#000" stroke-width="2.7" stroke-linecap="round"/>
<circle cx="770.8" cy="112.7" r="2.6" fill="#000"/>
<line x1="781.95" y1="108.10" x2="781.95" y2="117.30" stroke="#000" stroke-width="2.7" stroke-linecap="round"/>
<line x1="777.97" y1="110.40" x2="785.93" y2="115.00" stroke="#000" stroke-width="2.7" stroke-linecap="round"/>
<line x1="777.97" y1="115.00" x2="785.93" y2="110.40" stroke="#000" stroke-width="2.7" stroke-linecap="round"/>
<circle cx="781.95" cy="112.7" r="2.6" fill="#000"/>
<text transform="translate(537,237) rotate(-90) scale(0.965,1)" font-size="28.5" text-anchor="middle" font-family="Liberation Sans, sans-serif" font-weight="bold">Climbing ability (cm s<tspan dy="-10.5" font-size="18">-1</tspan><tspan dy="10.5">)</tspan></text>
<text transform="translate(660.2,467.0) rotate(-45)" font-size="29" text-anchor="end" font-family="Liberation Sans, sans-serif" font-weight="bold">Control</text>
<text transform="translate(703.0,467.0) rotate(-45)" font-size="29" text-anchor="end" font-family="Liberation Sans, sans-serif" font-weight="bold">UPDA</text>
<text transform="translate(745.5,467.0) rotate(-45)" font-size="29" text-anchor="end" font-family="Liberation Sans, sans-serif" font-weight="bold">D-gal</text>
<text transform="translate(788.2,467.0) rotate(-45)" font-size="29" text-anchor="end" font-family="Liberation Sans, sans-serif" font-weight="bold">D-gal + UPDA</text>
<line x1="1028.6" y1="112" x2="1028.6" y2="430.0" stroke="#000" stroke-width="4"/>
<line x1="1013.5999999999999" y1="127.19999999999999" x2="1030.6" y2="127.19999999999999" stroke="#000" stroke-width="4"/>
<text transform="translate(1010.5999999999999,138.0) scale(0.92,1)" font-size="30.5" text-anchor="end" font-family="Liberation Sans, sans-serif" font-weight="bold">100</text>
<line x1="1013.5999999999999" y1="187.36" x2="1030.6" y2="187.36" stroke="#000" stroke-width="4"/>
<text transform="translate(1010.5999999999999,198.16000000000003) scale(0.92,1)" font-size="30.5" text-anchor="end" font-family="Liberation Sans, sans-serif" font-weight="bold">80</text>
<line x1="1013.5999999999999" y1="247.52" x2="1030.6" y2="247.52" stroke="#000" stroke-width="4"/>
<text transform="translate(1010.5999999999999,258.32) scale(0.92,1)" font-size="30.5" text-anchor="end" font-family="Liberation Sans, sans-serif" font-weight="bold">60</text>
<line x1="1013.5999999999999" y1="307.68" x2="1030.6" y2="307.68" stroke="#000" stroke-width="4"/>
<text transform="translate(1010.5999999999999,318.48) scale(0.92,1)" font-size="30.5" text-anchor="end" font-family="Liberation Sans, sans-serif" font-weight="bold">40</text>
<line x1="1013.5999999999999" y1="367.84000000000003" x2="1030.6" y2="367.84000000000003" stroke="#000" stroke-width="4"/>
<text transform="translate(1010.5999999999999,378.64000000000004) scale(0.92,1)" font-size="30.5" text-anchor="end" font-family="Liberation Sans, sans-serif" font-weight="bold">20</text>
<line x1="1013.5999999999999" y1="428.0" x2="1030.6" y2="428.0" stroke="#000" stroke-width="4"/>
<text transform="translate(1010.5999999999999,438.8) scale(0.92,1)" font-size="30.5" text-anchor="end" font-family="Liberation Sans, sans-serif" font-weight="bold">0</text>
<line x1="1013" y1="428" x2="1502.8" y2="428" stroke="#000" stroke-width="4"/>
<line x1="1028.2" y1="428" x2="1028.2" y2="443" stroke="#000" stroke-width="4"/>
<text transform="translate(1028.2,472.5) scale(0.92,1)" font-size="30.5" text-anchor="middle" font-family="Liberation Sans, sans-serif" font-weight="bold">0</text>
<line x1="1107.3" y1="428" x2="1107.3" y2="443" stroke="#000" stroke-width="4"/>
<text transform="translate(1107.3,472.5) scale(0.92,1)" font-size="30.5" text-anchor="middle" font-family="Liberation Sans, sans-serif" font-weight="bold">10</text>
<line x1="1186.4" y1="428" x2="1186.4" y2="443" stroke="#000" stroke-width="4"/>
<text transform="translate(1186.4,472.5) scale(0.92,1)" font-size="30.5" text-anchor="middle" font-family="Liberation Sans, sans-serif" font-weight="bold">20</text>
<line x1="1265.5" y1="428" x2="1265.5" y2="443" stroke="#000" stroke-width="4"/>
<text transform="translate(1265.5,472.5) scale(0.92,1)" font-size="30.5" text-anchor="middle" font-family="Liberation Sans, sans-serif" font-weight="bold">30</text>
<line x1="1344.6" y1="428" x2="1344.6" y2="443" stroke="#000" stroke-width="4"/>
<text transform="translate(1344.6,472.5) scale(0.92,1)" font-size="30.5" text-anchor="middle" font-family="Liberation Sans, sans-serif" font-weight="bold">40</text>
<line x1="1423.7" y1="428" x2="1423.7" y2="443" stroke="#000" stroke-width="4"/>
<text transform="translate(1423.7,472.5) scale(0.92,1)" font-size="30.5" text-anchor="middle" font-family="Liberation Sans, sans-serif" font-weight="bold">50</text>
<line x1="1502.8000000000002" y1="428" x2="1502.8000000000002" y2="443" stroke="#000" stroke-width="4"/>
<text transform="translate(1502.8000000000002,472.5) scale(0.92,1)" font-size="30.5" text-anchor="middle" font-family="Liberation Sans, sans-serif" font-weight="bold">60</text>
<text transform="translate(1266,516.2) scale(0.965,1)" font-size="28.5" text-anchor="middle" font-family="Liberation Sans, sans-serif" font-weight="bold">Time (day)</text>
<text transform="translate(932,267) rotate(-90) scale(0.965,1)" font-size="28.5" text-anchor="middle" font-family="Liberation Sans, sans-serif" font-weight="bold">Survival (%)</text>
<path d="M1028.2,127.19999999999999 H1210.1 V145.6 H1218.0 V165.1 H1249.7 V186.7 H1257.6 V208.9 H1265.5 V229.8 H1273.4 V252.3 H1297.1 V277.7 H1376.2 V307.3 H1392.1 V337.7 H1407.9 V367.6 H1439.5 V397.8 H1463.2 V428.0" fill="none" stroke="#ABBAEA" stroke-width="4" stroke-linejoin="miter" stroke-linecap="butt"/>
<path d="M1028.2,127.19999999999999 H1210.1 V161.2 H1233.9 V193.9 H1241.8 V227.6 H1273.4 V260.2 H1289.2 V293.6 H1313.0 V327.9 H1336.7 V361.4 H1384.2 V394.5 H1400.0 V428.0" fill="none" stroke="#000" stroke-width="4" stroke-linejoin="miter" stroke-linecap="butt"/>
<path d="M1028.2,127.19999999999999 H1194.3 V177.4 H1202.2 V227.3 H1210.1 V277.6 H1233.9 V328.2 H1297.1 V378.1 H1320.9 V428.0" fill="none" stroke="#3A70E0" stroke-width="4" stroke-linejoin="miter" stroke-linecap="butt"/>
<path d="M1028.2,127.19999999999999 H1233.9 V148.1 H1241.8 V169.7 H1273.4 V195.8 H1313.0 V228.7 H1328.8 V269.2 H1344.6 V308.6 H1376.2 V368.7 H1400.0 V428.0" fill="none" stroke="#1B45CB" stroke-width="4" stroke-linejoin="miter" stroke-linecap="butt"/>
<line x1="1036.1" y1="116" x2="1036.1" y2="127" stroke="#000" stroke-width="4"/>
<line x1="1044.0" y1="116" x2="1044.0" y2="127" stroke="#000" stroke-width="4"/>
<line x1="1051.9" y1="116" x2="1051.9" y2="127" stroke="#000" stroke-width="4"/>
<line x1="1059.8" y1="116" x2="1059.8" y2="127" stroke="#000" stroke-width="4"/>
<line x1="1067.8" y1="116" x2="1067.8" y2="127" stroke="#000" stroke-width="4"/>
<line x1="1075.7" y1="116" x2="1075.7" y2="127" stroke="#000" stroke-width="4"/>
<line x1="1083.6" y1="116" x2="1083.6" y2="127" stroke="#000" stroke-width="4"/>
<line x1="1091.5" y1="116" x2="1091.5" y2="127" stroke="#000" stroke-width="4"/>
<line x1="1099.4" y1="116" x2="1099.4" y2="127" stroke="#000" stroke-width="4"/>
<line x1="1107.3" y1="116" x2="1107.3" y2="127" stroke="#000" stroke-width="4"/>
<line x1="1115.2" y1="116" x2="1115.2" y2="127" stroke="#000" stroke-width="4"/>
<line x1="1123.1" y1="116" x2="1123.1" y2="127" stroke="#000" stroke-width="4"/>
<line x1="1131.0" y1="116" x2="1131.0" y2="127" stroke="#000" stroke-width="4"/>
<line x1="1138.9" y1="116" x2="1138.9" y2="127" stroke="#000" stroke-width="4"/>
<line x1="1146.9" y1="116" x2="1146.9" y2="127" stroke="#000" stroke-width="4"/>
<line x1="1154.8" y1="116" x2="1154.8" y2="127" stroke="#000" stroke-width="4"/>
<line x1="1162.7" y1="116" x2="1162.7" y2="127" stroke="#000" stroke-width="4"/>
<line x1="1170.6" y1="116" x2="1170.6" y2="127" stroke="#000" stroke-width="4"/>
<line x1="1178.5" y1="116" x2="1178.5" y2="127" stroke="#000" stroke-width="4"/>
<line x1="1186.4" y1="116" x2="1186.4" y2="127" stroke="#000" stroke-width="4"/>
<line x1="1194.3" y1="116" x2="1194.3" y2="127" stroke="#000" stroke-width="4"/>
<line x1="1202.2" y1="116" x2="1202.2" y2="127" stroke="#000" stroke-width="4"/>
<line x1="1210.1" y1="116" x2="1210.1" y2="127" stroke="#000" stroke-width="4"/>
<line x1="1218.0" y1="116" x2="1218.0" y2="127" stroke="#000" stroke-width="4"/>
<line x1="1226.0" y1="152.7" x2="1226.0" y2="161.2" stroke="#000" stroke-width="4"/>
<line x1="1233.9" y1="152.7" x2="1233.9" y2="161.2" stroke="#000" stroke-width="4"/>
<line x1="1249.7" y1="161.2" x2="1249.7" y2="169.7" stroke="#000" stroke-width="4"/>
<line x1="1265.5" y1="161.2" x2="1265.5" y2="169.7" stroke="#000" stroke-width="4"/>
<line x1="1281.3" y1="187.3" x2="1281.3" y2="195.8" stroke="#000" stroke-width="4"/>
<line x1="1297.1" y1="187.3" x2="1297.1" y2="195.8" stroke="#000" stroke-width="4"/>
<line x1="1320.9" y1="220.2" x2="1320.9" y2="228.7" stroke="#000" stroke-width="4"/>
<line x1="1289.2" y1="243.8" x2="1289.2" y2="252.3" stroke="#000" stroke-width="4"/>
<line x1="1313.0" y1="269.2" x2="1313.0" y2="277.7" stroke="#000" stroke-width="4"/>
<line x1="1352.5" y1="300.1" x2="1352.5" y2="308.6" stroke="#000" stroke-width="4"/>
<line x1="1376" y1="121.9" x2="1417" y2="121.9" stroke="#000" stroke-width="4" stroke-linecap="round"/>
<line x1="1396" y1="117" x2="1396" y2="121.9" stroke="#000" stroke-width="3.5"/>
<text x="1438.5" y="129.7" font-size="21.5" textLength="68.5" lengthAdjust="spacingAndGlyphs" font-family="Liberation Sans, sans-serif" font-weight="bold">Control</text>
<line x1="1376" y1="151.7" x2="1417" y2="151.7" stroke="#ABBAEA" stroke-width="4" stroke-linecap="round"/>
<line x1="1396" y1="142.5" x2="1396" y2="151.7" stroke="#000" stroke-width="3.5"/>
<text x="1438.5" y="159.5" font-size="21.5" textLength="56.5" lengthAdjust="spacingAndGlyphs" font-family="Liberation Sans, sans-serif" font-weight="bold">UPDA</text>
<line x1="1376" y1="184.5" x2="1417" y2="184.5" stroke="#3A70E0" stroke-width="4" stroke-linecap="round"/>
<line x1="1396" y1="173.3" x2="1396" y2="184.5" stroke="#000" stroke-width="3.5"/>
<text x="1438.5" y="191.3" font-size="21.5" textLength="48.5" lengthAdjust="spacingAndGlyphs" font-family="Liberation Sans, sans-serif" font-weight="bold">D-gal</text>
<line x1="1376" y1="214" x2="1417" y2="214" stroke="#1B45CB" stroke-width="4" stroke-linecap="round"/>
<line x1="1396" y1="205" x2="1396" y2="214" stroke="#000" stroke-width="3.5"/>
<text x="1438.5" y="221" font-size="21.5" textLength="127.5" lengthAdjust="spacingAndGlyphs" font-family="Liberation Sans, sans-serif" font-weight="bold">D-gal + UPDA</text>
<text x="1044" y="400.3" font-size="22.5" textLength="263" lengthAdjust="spacingAndGlyphs" font-family="Liberation Sans, sans-serif" font-weight="bold">Logrank <tspan font-style="italic">p</tspan>-value &lt; 0.0001</text>
<text x="265" y="655" font-size="33" text-anchor="middle" font-family="Liberation Sans, sans-serif" font-weight="bold">Control</text>
<text x="659" y="655" font-size="33" text-anchor="middle" font-family="Liberation Sans, sans-serif" font-weight="bold">UPDA</text>
<text x="1016" y="655" font-size="33" text-anchor="middle" font-family="Liberation Sans, sans-serif" font-weight="bold">D-gal</text>
<text x="1415" y="655" font-size="33" text-anchor="middle" font-family="Liberation Sans, sans-serif" font-weight="bold">D-gal+UPDA</text>
<rect x="68" y="664" width="372" height="234" fill="#000"/>
<rect x="452" y="664" width="361" height="234" fill="#000"/>
<rect x="822" y="664" width="373" height="234" fill="#000"/>
<rect x="1206" y="665" width="362" height="233" fill="#000"/>
<svg x="68" y="664" width="372" height="234" viewBox="0 0 1459.0 917.7" overflow="hidden"><g filter="url(#soft7)"><g clip-path="url(#clip0)"><rect x="-100" y="-100" width="2000" height="1200" fill="rgb(6,75,8)"/><ellipse cx="540" cy="680" rx="80" ry="60" fill="url(#rg0)"/><path d="M460,669 C450.0,663.0 485.0,629.8 500,624 C515.0,618.2 537.5,624.0 550,634 C562.5,644.0 575.0,669.8 575,684 C575.0,698.2 555.0,706.5 550,719 C545.0,731.5 545.0,744.0 545,759 C545.0,774.0 545.8,789.8 550,809 C554.2,828.2 561.7,857.3 570,874 C578.3,890.7 586.7,904.8 600,909 C613.3,913.2 635.0,905.7 650,899 C665.0,892.3 680.0,884.0 690,869 C700.0,854.0 705.0,823.2 710,809 C715.0,794.8 716.8,792.3 720,784 C723.2,775.7 726.5,769.7 729,759 C731.5,748.3 723.2,726.2 735,720 C746.8,713.8 779.2,722.2 800,722 C820.8,721.8 850.2,726.0 860,719 C869.8,712.0 865.7,691.5 859,680 C852.3,668.5 829.8,663.3 820,650 C810.2,636.7 810.0,615.0 800,600 C790.0,585.0 771.8,571.0 760,560 C748.2,549.0 739.0,540.7 729,534 C719.0,527.3 706.5,522.3 700,520 C693.5,517.7 700.0,506.7 690,520 C680.0,533.3 661.7,576.7 640,600 C618.3,623.3 590.0,648.5 560,660 C530.0,671.5 470.0,675.0 460,669 Z" fill="none" stroke="rgb(11,140,14)" stroke-width="30" stroke-opacity="1" filter="url(#soft12)"/></g><path d="M578,729 C595.8,714.0 651.7,717.3 675,719 C698.3,720.7 713.8,718.0 718,739 C722.2,760.0 711.3,822.3 700,845 C688.7,867.7 666.3,871.5 650,875 C633.7,878.5 615.7,877.0 602,866 C588.3,855.0 572.0,831.8 568,809 C564.0,786.2 560.2,744.0 578,729 Z" fill="#000"/><ellipse cx="777" cy="598" rx="26" ry="40" fill="#000"/><g clip-path="url(#clip1)"><rect x="-100" y="-100" width="2000" height="1200" fill="rgb(6,70,7)"/><ellipse cx="330" cy="430" rx="260" ry="250" fill="url(#rg1)"/><ellipse cx="110" cy="290" rx="150" ry="190" fill="url(#rg2)"/><path d="M130,210 C136.7,201.7 140.0,204.2 160,200 C180.0,195.8 226.7,187.5 250,185 C273.3,182.5 283.3,182.5 300,185 C316.7,187.5 333.3,197.5 350,200 C366.7,202.5 385.0,190.0 400,200 C415.0,210.0 431.7,230.0 440,260 C448.3,290.0 451.7,343.3 450,380 C448.3,416.7 436.7,456.8 430,480 C423.3,503.2 416.7,505.8 410,519 C403.3,532.2 408.3,546.5 390,559 C371.7,571.5 331.7,589.8 300,594 C268.3,598.2 229.2,594.0 200,584 C170.8,574.0 145.0,554.8 125,534 C105.0,513.2 90.0,481.3 80,459 C70.0,436.7 65.0,422.3 65,400 C65.0,377.7 70.8,350.0 80,325 C89.2,300.0 111.7,269.2 120,250 C128.3,230.8 123.3,218.3 130,210 Z" fill="none" stroke="rgb(6,80,8)" stroke-width="30" stroke-opacity="1" filter="url(#soft12)"/></g><g clip-path="url(#clip2)"><rect x="-100" y="-100" width="2000" height="1200" fill="rgb(4,55,6)"/><ellipse cx="580" cy="400" rx="200" ry="260" fill="url(#rg3)"/></g><g clip-path="url(#clip3)"><rect x="-100" y="-100" width="2000" height="1200" fill="rgb(5,60,6)"/><ellipse cx="660" cy="570" rx="50" ry="150" fill="url(#rg4)"/></g><g clip-path="url(#clip4)"><rect x="-100" y="-100" width="2000" height="1200" fill="rgb(6,78,8)"/><ellipse cx="880" cy="360" rx="180" ry="210" fill="url(#rg5)"/></g><g clip-path="url(#clip5)"><rect x="-100" y="-100" width="2000" height="1200" fill="rgb(7,88,9)"/><ellipse cx="1200" cy="460" rx="170" ry="220" fill="url(#rg6)"/><path d="M1079.5,275 C1082.8,261.7 1081.2,277.5 1089.5,270 C1097.8,262.5 1114.5,240.0 1129.5,230 C1144.5,220.0 1158.7,211.7 1179.5,210 C1200.3,208.3 1233.7,213.3 1254.5,220 C1275.3,226.7 1289.5,238.3 1304.5,250 C1319.5,261.7 1332.8,271.7 1344.5,290 C1356.2,308.3 1367.0,331.8 1374.5,360 C1382.0,388.2 1388.7,430.0 1389.5,459 C1390.3,488.0 1387.0,506.5 1379.5,534 C1372.0,561.5 1361.2,598.2 1344.5,624 C1327.8,649.8 1298.7,675.7 1279.5,689 C1260.3,702.3 1247.8,704.8 1229.5,704 C1211.2,703.2 1187.8,693.2 1169.5,684 C1151.2,674.8 1134.5,659.8 1119.5,649 C1104.5,638.2 1096.2,632.3 1079.5,619 C1062.8,605.7 1034.5,584.8 1019.5,569 C1004.5,553.2 992.8,533.8 989.5,524 C986.2,514.2 991.6,522.3 1000,510 C1008.4,497.7 1028.3,476.7 1040,450 C1051.7,423.3 1063.4,379.2 1070,350 C1076.6,320.8 1076.2,288.3 1079.5,275 Z" fill="none" stroke="rgb(10,120,12)" stroke-width="40" stroke-opacity="1" filter="url(#soft12)"/></g><path d="M132,195 C132.0,185.0 140.3,169.2 150,150 C159.7,130.8 180.0,93.3 190,80 C200.0,66.7 202.5,69.2 210,70 C217.5,70.8 227.5,77.5 235,85 C242.5,92.5 250.8,102.5 255,115 C259.2,127.5 263.3,150.0 260,160 C256.7,170.0 245.0,172.5 235,175 C225.0,177.5 214.2,169.2 200,175 C185.8,180.8 161.3,206.7 150,210 C138.7,213.3 132.0,205.0 132,195 Z" fill="rgb(19,240,24)"/><path d="M945,500 C948.3,486.7 968.3,485.0 975,495 C981.7,505.0 988.3,546.7 985,560 C981.7,573.3 961.7,585.0 955,575 C948.3,565.0 941.7,513.3 945,500 Z" fill="rgb(12,150,15)"/></g><g filter="url(#soft4)"><circle cx="1304.5" cy="282.5" r="22" fill="#000"/><circle cx="1379.5" cy="430" r="24" fill="#000"/><circle cx="989.5" cy="150" r="14" fill="#000"/><circle cx="749.5" cy="360" r="26" fill="#000"/><circle cx="1049.5" cy="435" r="18" fill="#000"/><circle cx="495" cy="85" r="5" fill="rgb(15,190,19)"/><circle cx="555" cy="72" r="5" fill="rgb(15,190,19)"/><circle cx="590" cy="100" r="5" fill="rgb(15,190,19)"/><circle cx="620" cy="120" r="5" fill="rgb(15,190,19)"/><circle cx="670" cy="130" r="5" fill="rgb(15,190,19)"/><circle cx="690" cy="145" r="5" fill="rgb(15,190,19)"/><circle cx="640" cy="140" r="5" fill="rgb(15,190,19)"/><circle cx="600" cy="150" r="5" fill="rgb(15,190,19)"/><circle cx="520" cy="140" r="5" fill="rgb(15,190,19)"/><circle cx="500" cy="150" r="5" fill="rgb(15,190,19)"/><circle cx="470" cy="160" r="5" fill="rgb(15,190,19)"/><circle cx="450" cy="170" r="5" fill="rgb(15,190,19)"/><circle cx="530" cy="160" r="5" fill="rgb(15,190,19)"/><circle cx="560" cy="155" r="5" fill="rgb(15,190,19)"/><circle cx="655" cy="370" r="5" fill="rgb(15,190,19)"/><circle cx="670" cy="380" r="5" fill="rgb(15,190,19)"/><circle cx="625" cy="460" r="5" fill="rgb(15,190,19)"/><circle cx="630" cy="480" r="5" fill="rgb(15,190,19)"/><circle cx="610" cy="620" r="5" fill="rgb(15,190,19)"/><circle cx="580" cy="660" r="5" fill="rgb(15,190,19)"/><circle cx="620" cy="700" r="5" fill="rgb(15,190,19)"/><circle cx="660" cy="710" r="5" fill="rgb(15,190,19)"/><circle cx="700" cy="640" r="5" fill="rgb(15,190,19)"/><circle cx="950" cy="170" r="5" fill="rgb(15,190,19)"/><circle cx="980" cy="180" r="5" fill="rgb(15,190,19)"/><circle cx="1280" cy="370" r="5" fill="rgb(15,190,19)"/><circle cx="1295" cy="410" r="5" fill="rgb(15,190,19)"/><circle cx="1290" cy="550" r="5" fill="rgb(15,190,19)"/><circle cx="1170" cy="610" r="5" fill="rgb(15,190,19)"/><circle cx="1140" cy="540" r="5" fill="rgb(15,190,19)"/><circle cx="910" cy="460" r="5" fill="rgb(15,190,19)"/><circle cx="950" cy="470" r="5" fill="rgb(15,190,19)"/><circle cx="975" cy="465" r="5" fill="rgb(15,190,19)"/><circle cx="120" cy="260" r="5" fill="rgb(15,190,19)"/><circle cx="150" cy="235" r="5" fill="rgb(15,190,19)"/><circle cx="100" cy="340" r="5" fill="rgb(15,190,19)"/><circle cx="540" cy="530" r="5" fill="rgb(15,190,19)"/><circle cx="570" cy="690" r="5" fill="rgb(15,190,19)"/><circle cx="1288" cy="300" r="5" fill="rgb(15,190,19)"/><circle cx="1135" cy="365" r="5" fill="rgb(15,190,19)"/><circle cx="1110" cy="375" r="5" fill="rgb(15,190,19)"/></g></svg>
<svg x="452" y="664" width="361" height="234" viewBox="0 0 1415.8 917.7" overflow="hidden"><g filter="url(#soft7)"><g clip-path="url(#clip6)"><rect x="-100" y="-100" width="2000" height="1200" fill="rgb(2,30,3)"/><ellipse cx="595" cy="840" rx="80" ry="120" fill="url(#rg7)"/></g><g clip-path="url(#clip7)"><rect x="-100" y="-100" width="2000" height="1200" fill="rgb(4,52,5)"/><ellipse cx="620" cy="300" rx="470" ry="270" fill="url(#rg8)"/><ellipse cx="300" cy="600" rx="210" ry="220" fill="url(#rg9)"/><ellipse cx="1110" cy="590" rx="340" ry="270" fill="url(#rg10)"/><ellipse cx="1250" cy="520" rx="90" ry="220" fill="url(#rg11)"/><ellipse cx="640" cy="440" rx="40" ry="60" fill="url(#rg12)"/><ellipse cx="650" cy="610" rx="170" ry="110" fill="url(#rg13)"/></g><g clip-path="url(#clip8)"><rect x="-100" y="-100" width="2000" height="1200" fill="rgb(10,120,12)"/><ellipse cx="1345" cy="640" rx="60" ry="55" fill="url(#rg14)"/></g><path d="M385,100 C391.7,95.5 422.5,90.7 440,88 C457.5,85.3 483.3,82.0 490,84 C496.7,86.0 495.0,94.8 480,100 C465.0,105.2 415.8,115.0 400,115 C384.2,115.0 378.3,104.5 385,100 Z" fill="rgb(10,130,13)"/></g><g filter="url(#soft4)"><rect x="655" y="0" width="25" height="16" fill="rgb(15,190,19)"/><ellipse cx="971" cy="649" rx="28" ry="22" fill="#000" opacity="0.85"/><circle cx="150" cy="205" r="7" fill="rgb(5,60,6)"/></g></svg>
<svg x="822" y="664" width="373" height="234" viewBox="0 0 1462.9 917.7" overflow="hidden"><g filter="url(#soft7)"><g clip-path="url(#clip9)"><rect x="-100" y="-100" width="2000" height="1200" fill="rgb(2,22,2)"/></g><g clip-path="url(#clip10)"><rect x="-100" y="-100" width="2000" height="1200" fill="rgb(8,102,10)"/><ellipse cx="720" cy="420" rx="430" ry="330" fill="url(#rg15)"/><ellipse cx="270" cy="620" rx="220" ry="240" fill="url(#rg16)"/><ellipse cx="1190" cy="620" rx="230" ry="230" fill="url(#rg17)"/><ellipse cx="1400" cy="640" rx="250" ry="360" fill="url(#rg18)"/><ellipse cx="1015" cy="210" rx="110" ry="90" fill="url(#rg19)"/><ellipse cx="760" cy="700" rx="240" ry="150" fill="url(#rg20)"/><ellipse cx="40" cy="600" rx="90" ry="260" fill="url(#rg21)"/></g></g><g filter="url(#soft4)"><circle cx="560" cy="115" r="6" fill="rgb(16,200,20)"/><circle cx="620" cy="108" r="6" fill="rgb(16,200,20)"/><circle cx="660" cy="120" r="6" fill="rgb(16,200,20)"/><circle cx="700" cy="110" r="6" fill="rgb(16,200,20)"/><circle cx="730" cy="115" r="6" fill="rgb(16,200,20)"/><circle cx="760" cy="112" r="6" fill="rgb(16,200,20)"/><circle cx="480" cy="140" r="6" fill="rgb(16,200,20)"/><circle cx="950" cy="140" r="6" fill="rgb(16,200,20)"/><circle cx="1000" cy="170" r="6" fill="rgb(16,200,20)"/><circle cx="1040" cy="185" r="6" fill="rgb(16,200,20)"/><circle cx="1070" cy="230" r="6" fill="rgb(16,200,20)"/><circle cx="940" cy="650" r="6" fill="rgb(16,200,20)"/><circle cx="950" cy="700" r="6" fill="rgb(16,200,20)"/><circle cx="965" cy="720" r="6" fill="rgb(16,200,20)"/><circle cx="900" cy="770" r="6" fill="rgb(16,200,20)"/><circle cx="850" cy="790" r="6" fill="rgb(16,200,20)"/><circle cx="800" cy="800" r="6" fill="rgb(16,200,20)"/><circle cx="750" cy="790" r="6" fill="rgb(16,200,20)"/><circle cx="720" cy="760" r="6" fill="rgb(16,200,20)"/><circle cx="1380" cy="280" r="6" fill="rgb(16,200,20)"/></g></svg>
<svg x="1206" y="665" width="362" height="233" viewBox="0 0 1419.8 913.8" overflow="hidden"><g filter="url(#soft7)"><g clip-path="url(#clip11)"><rect x="-100" y="-100" width="2000" height="1200" fill="rgb(2,22,2)"/></g><g clip-path="url(#clip12)"><rect x="-100" y="-100" width="2000" height="1200" fill="rgb(5,58,6)"/><ellipse cx="290" cy="620" rx="250" ry="250" fill="url(#rg22)"/><ellipse cx="1205" cy="575" rx="230" ry="240" fill="url(#rg23)"/><ellipse cx="445" cy="610" rx="60" ry="140" fill="url(#rg24)"/><ellipse cx="735" cy="640" rx="55" ry="170" fill="url(#rg25)"/><ellipse cx="645" cy="840" rx="70" ry="100" fill="url(#rg26)"/><path d="M50,624 C40.0,594.8 55.0,559.0 65,534 C75.0,509.0 100.8,486.5 110,474 C119.2,461.5 105.0,475.5 120,459 C135.0,442.5 173.3,399.8 200,375 C226.7,350.2 255.0,330.8 280,310 C305.0,289.2 330.0,266.7 350,250 C370.0,233.3 379.2,222.5 400,210 C420.8,197.5 445.8,185.8 475,175 C504.2,164.2 545.8,151.7 575,145 C604.2,138.3 627.5,135.8 650,135 C672.5,134.2 687.5,137.5 710,140 C732.5,142.5 751.7,145.0 785,150 C818.3,155.0 876.7,160.0 910,170 C943.3,180.0 964.2,193.7 985,210 C1005.8,226.3 1020.8,250.5 1035,268 C1049.2,285.5 1049.2,305.5 1070,315 C1090.8,324.5 1132.5,319.2 1160,325 C1187.5,330.8 1210.0,335.8 1235,350 C1260.0,364.2 1292.5,391.8 1310,410 C1327.5,428.2 1331.7,444.2 1340,459 C1348.3,473.8 1354.2,478.2 1360,499 C1365.8,519.8 1376.7,553.2 1375,584 C1373.3,614.8 1365.0,656.5 1350,684 C1335.0,711.5 1308.3,733.2 1285,749 C1261.7,764.8 1235.0,777.3 1210,779 C1185.0,780.7 1160.0,769.0 1135,759 C1110.0,749.0 1082.5,735.7 1060,719 C1037.5,702.3 1016.7,670.7 1000,659 C983.3,647.3 979.2,639.0 960,649 C940.8,659.0 910.0,697.3 885,719 C860.0,740.7 839.2,768.2 810,779 C780.8,789.8 730.0,780.5 710,784 C690.0,787.5 693.3,777.7 690,800 C686.7,822.3 705.0,898.3 690,918 C675.0,937.7 615.0,936.2 600,918 C585.0,899.8 604.2,836.3 600,809 C595.8,781.7 591.7,772.3 575,754 C558.3,735.7 516.7,709.8 500,699 C483.3,688.2 487.5,685.7 475,689 C462.5,692.3 445.8,705.7 425,719 C404.2,732.3 377.5,753.2 350,769 C322.5,784.8 285.0,809.0 260,814 C235.0,819.0 222.5,816.5 200,799 C177.5,781.5 150.0,738.2 125,709 C100.0,679.8 60.0,653.2 50,624 Z" fill="none" stroke="rgb(8,100,10)" stroke-width="34" stroke-opacity="1" filter="url(#soft12)"/></g></g><g filter="url(#soft4)"><circle cx="350" cy="300" r="20" fill="rgb(17,210,21)"/><circle cx="330" cy="280" r="5" fill="rgb(14,170,17)"/><circle cx="320" cy="350" r="5" fill="rgb(14,170,17)"/><circle cx="180" cy="370" r="5" fill="rgb(14,170,17)"/><circle cx="420" cy="520" r="5" fill="rgb(14,170,17)"/><circle cx="430" cy="580" r="5" fill="rgb(14,170,17)"/><circle cx="440" cy="640" r="5" fill="rgb(14,170,17)"/><circle cx="450" cy="690" r="5" fill="rgb(14,170,17)"/><circle cx="415" cy="705" r="5" fill="rgb(14,170,17)"/><circle cx="720" cy="520" r="5" fill="rgb(14,170,17)"/><circle cx="730" cy="600" r="5" fill="rgb(14,170,17)"/><circle cx="740" cy="680" r="5" fill="rgb(14,170,17)"/><circle cx="760" cy="740" r="5" fill="rgb(14,170,17)"/><circle cx="1200" cy="610" r="5" fill="rgb(14,170,17)"/><circle cx="1250" cy="640" r="5" fill="rgb(14,170,17)"/><circle cx="900" cy="180" r="5" fill="rgb(14,170,17)"/><circle cx="1000" cy="230" r="5" fill="rgb(14,170,17)"/></g></svg>
<rect x="1494" y="885" width="54.2" height="6.9" fill="#fbf7f5"/>
<text x="1470" y="876.3" font-size="25" fill="#fbf7f5" font-family="Liberation Sans, sans-serif" font-weight="bold">100 μm</text>
</svg>
</body></html>
